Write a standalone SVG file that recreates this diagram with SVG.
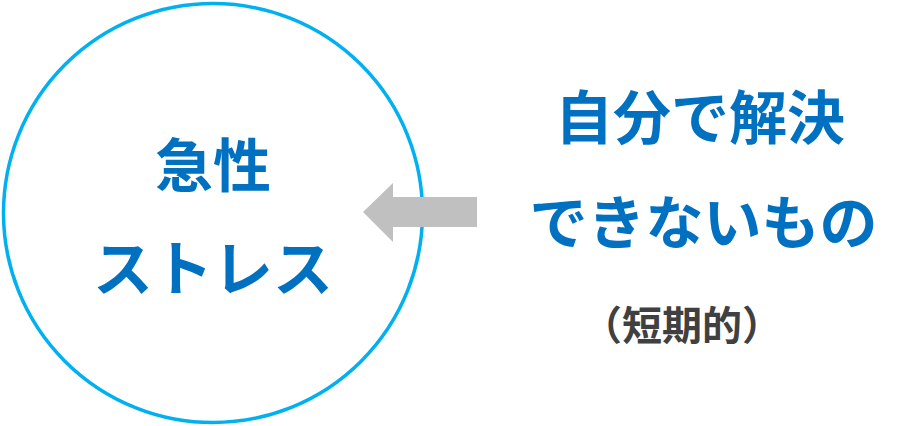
<svg xmlns="http://www.w3.org/2000/svg" width="907" height="426" viewBox="0 0 907 426">
<style>
.blue{fill:#0070C0;font-family:"Noto Sans CJK JP","Noto Sans CJK SC",sans-serif;font-weight:bold;text-anchor:middle}
.gray{fill:#404040;font-family:"Noto Sans CJK JP","Noto Sans CJK SC",sans-serif;font-weight:bold;text-anchor:middle}
</style>
<rect width="907" height="426" fill="#ffffff"/>
<g id="circle-node">
<circle cx="213" cy="213" r="209.5" fill="none" stroke="#00B0F0" stroke-width="3.5"/>
<text class="blue" x="213" y="187" font-size="58">急性</text>
<text class="blue" x="213" y="291" font-size="60">ストレス</text>
</g>
<g id="connectors">
<polygon points="477,197 393,197 393,183 363,212 393,242 393,227 477,227" fill="#C0C0C0"/>
</g>
<g id="cause-node">
<text class="blue" x="700" y="139" font-size="58">自分で解決</text>
<text class="blue" x="703.5" y="244" font-size="58">できないもの</text>
<text class="gray" x="682" y="340" font-size="40">（短期的）</text>
</g>
</svg>
